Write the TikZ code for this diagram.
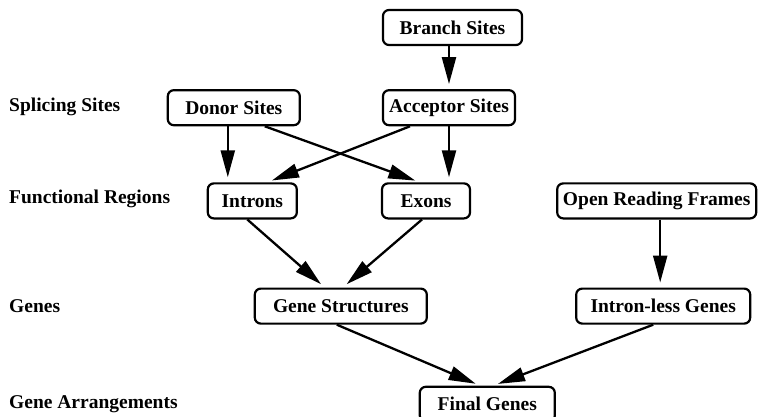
\documentclass[tikz,border=0pt]{standalone}
\usepackage{fontspec}
\setmainfont{Liberation Serif}
\usepackage{tikz}
\usetikzlibrary{arrows.meta, positioning}

\begin{document}
\begin{tikzpicture}[
    x=1pt, y=-1pt,
    >={Triangle[length=27pt, width=14pt]},
    box/.style={draw, line width=2.2pt, rounded corners=6pt, fill=white, minimum height=35pt, inner sep=2pt, align=center, font=\fontsize{19.5}{22}\selectfont\bfseries},
    level/.style={anchor=west, inner sep=0pt, font=\fontsize{19.5}{22}\selectfont\bfseries},
    arr/.style={->, line width=2.3pt, shorten >=5pt}
]
\useasboundingbox (0,0) rectangle (758,417);

% Levels
\node[level] (lsplice) at (9,107) {Splicing Sites};
\node[level] (lfunc) at (9,199) {Functional Regions};
\node[level] (lgenes) at (9,306) {Genes};
\node[level] (larrange) at (9,404) {Gene Arrangements};

% Splicing sites
\node[box, minimum width=139pt] (branch) at (452.5,27.5) {Branch Sites};
\node[box, minimum width=132pt, below=43pt of branch, xshift=-3.5pt] (acceptor) {Acceptor Sites};
\node[box, minimum width=132pt, left=81pt of acceptor] (donor) {Donor Sites};

% Functional regions
\node[box, minimum width=89pt, below=56pt of donor, xshift=18.5pt] (introns) {Introns};
\node[box, minimum width=88pt, below=56pt of acceptor, xshift=-23pt] (exons) {Exons};
\node[box, minimum width=199pt, right=85pt of exons] (orf) {Open Reading Frames};

% Genes
\node[box, minimum width=172pt, below=68pt of introns, xshift=88.5pt] (genestr) {Gene Structures};
\node[box, minimum width=174pt, below=68pt of orf, xshift=6.5pt] (intronless) {Intron-less Genes};

% Gene arrangements
\node[box, minimum width=135pt, below=61pt of genestr, xshift=146.5pt] (final) {Final Genes};

\draw[arr] (acceptor.north |- branch.south) -- (acceptor.north);
\draw[arr] ([xshift=-6pt]donor.south) -- ([xshift=-6pt]donor.south |- introns.north);
\draw[arr] ([xshift=31pt]donor.south) -- ([xshift=-6pt]exons.north);
\draw[arr] ([xshift=-39pt]acceptor.south) -- ([xshift=15pt]introns.north);
\draw[arr] (acceptor.south) -- (acceptor.south |- exons.north);

\draw[arr] ([xshift=-5pt]introns.south) -- ([xshift=-16pt]genestr.north);
\draw[arr] ([xshift=-4pt]exons.south) -- ([xshift=2pt]genestr.north);
\draw[arr] ([xshift=3.5pt]orf.south) -- ([xshift=3.5pt]orf.south |- intronless.north);

\draw[arr] ([xshift=-4pt]genestr.south) -- ([xshift=-7pt]final.north);
\draw[arr] ([xshift=-10pt]intronless.south) -- ([xshift=6pt]final.north);

\end{tikzpicture}
\end{document}
